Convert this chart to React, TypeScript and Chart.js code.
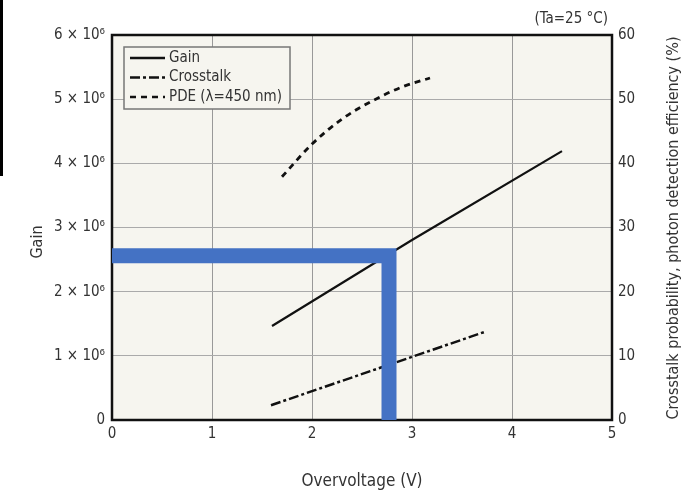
import React, { useEffect, useRef } from "react";
import { Chart, registerables } from "chart.js";

Chart.register(...registerables);

const FONT = "'DejaVu Sans Condensed', 'Noto Sans', sans-serif";

const gainX = [1.6, 3.0, 4.5];
const gainY = [1.465e6, 2.805e6, 4.19e6];

const crosstalkX = [1.59, 3.74];
const crosstalkY = [2.3, 13.8];

const pdeX = [1.7, 2.0, 2.3, 2.6, 2.9, 3.18];
const pdeY = [37.9, 43.0, 46.9, 49.7, 51.9, 53.3];

// highlight marker (reading of gain at ~2.77 V)
const markerX = [-0.02, 2.77, 2.77];
const markerY = [2.56e6, 2.56e6, -0.03e6];

const xTicks = [0, 1, 2, 3, 4, 5];
const gainTicks = [0, 1e6, 2e6, 3e6, 4e6, 5e6, 6e6];
const pctTicks = [0, 10, 20, 30, 40, 50, 60];

const legendItems = ["Gain", "Crosstalk", "PDE (λ=450 nm)"];
const legendDashes = [[], [10, 3, 3, 3], [6, 5]];

const toPts = (xs: number[], ys: number[]) => xs.map((x, i) => ({ x, y: ys[i] }));

const decorPlugin = {
  id: "decor",
  beforeDraw(chart: any) {
    const { ctx, chartArea: a } = chart;
    ctx.save();
    ctx.fillStyle = "#f6f5ef";
    ctx.fillRect(a.left, a.top, a.right - a.left, a.bottom - a.top);
    ctx.restore();
  },
  beforeDatasetsDraw(chart: any) {
    const { ctx, chartArea: a } = chart;
    ctx.save();
    ctx.strokeStyle = "#111";
    ctx.lineWidth = 2.5;
    ctx.strokeRect(a.left, a.top, a.right - a.left, a.bottom - a.top);
    ctx.restore();
  },
  afterDraw(chart: any) {
    const { ctx, chartArea: a } = chart;
    ctx.save();
    ctx.fillStyle = "#333";
    ctx.textBaseline = "middle";
    // top-right note
    ctx.font = `15px ${FONT}`;
    ctx.textAlign = "right";
    ctx.fillText("(Ta=25 °C)", a.right - 4, 19);
    // x title
    ctx.font = `17px ${FONT}`;
    ctx.textAlign = "center";
    ctx.fillText("Overvoltage (V)", (a.left + a.right) / 2, 482);
    // left title
    ctx.save();
    ctx.translate(38, 242);
    ctx.rotate(-Math.PI / 2);
    ctx.font = `16px ${FONT}`;
    ctx.fillText("Gain", 0, 0);
    ctx.restore();
    // right title
    ctx.save();
    ctx.translate(674, 228);
    ctx.rotate(-Math.PI / 2);
    ctx.font = `16px ${FONT}`;
    ctx.fillText("Crosstalk probability, photon detection efficiency (%)", 0, 0);
    ctx.restore();

    // legend box
    const bx = a.left + 12, by = a.top + 12, bw = 166, bh = 62;
    ctx.fillStyle = "#f6f5ef";
    ctx.fillRect(bx, by, bw, bh);
    ctx.strokeStyle = "#777";
    ctx.lineWidth = 1.5;
    ctx.strokeRect(bx, by, bw, bh);
    legendItems.forEach((label, i) => {
      const y = by + 11 + i * 19.5;
      ctx.beginPath();
      ctx.setLineDash(legendDashes[i]);
      ctx.strokeStyle = "#111";
      ctx.lineWidth = 2.5;
      ctx.moveTo(bx + 6, y);
      ctx.lineTo(bx + 41, y);
      ctx.stroke();
      ctx.setLineDash([]);
      ctx.fillStyle = "#333";
      ctx.font = `15px ${FONT}`;
      ctx.textAlign = "left";
      ctx.fillText(label, bx + 45, y);
    });
    ctx.restore();
  },
};

export default function App() {
  const ref = useRef<HTMLCanvasElement | null>(null);
  useEffect(() => {
    if (!ref.current) return;
    const chart = new Chart(ref.current, {
      type: "line",
      data: {
        datasets: [
          {
            label: "marker",
            data: toPts(markerX, markerY),
            borderColor: "#4472c4",
            borderWidth: 15,
            borderCapStyle: "butt",
            borderJoinStyle: "miter",
            pointRadius: 0,
            yAxisID: "y",
            order: -1,
          },
          {
            label: legendItems[0],
            data: toPts(gainX, gainY),
            borderColor: "#111",
            borderWidth: 2.2,
            pointRadius: 0,
            yAxisID: "y",
          },
          {
            label: legendItems[1],
            data: toPts(crosstalkX, crosstalkY),
            borderColor: "#111",
            borderWidth: 2.5,
            borderDash: legendDashes[1],
            pointRadius: 0,
            yAxisID: "y2",
          },
          {
            label: legendItems[2],
            data: toPts(pdeX, pdeY),
            borderColor: "#111",
            borderWidth: 2.8,
            borderDash: legendDashes[2],
            cubicInterpolationMode: "monotone",
            pointRadius: 0,
            yAxisID: "y2",
          },
        ],
      },
      options: {
        animation: false,
        responsive: false,
        layout: { padding: { top: 35, left: 0, right: 0, bottom: 0 } },
        plugins: { legend: { display: false }, tooltip: { enabled: false } },
        scales: {
          x: {
            type: "linear",
            min: 0,
            max: 5,
            afterFit: (s: any) => { s.height = 72; },
            afterBuildTicks: (s: any) => { s.ticks = xTicks.map((v) => ({ value: v })); },
            grid: { color: "#999", lineWidth: 1, drawTicks: false },
            border: { display: false },
            ticks: { color: "#333", font: { size: 15, family: FONT }, padding: 5 },
          },
          y: {
            position: "left",
            min: 0,
            max: 6e6,
            afterFit: (s: any) => { s.width = 112; },
            afterBuildTicks: (s: any) => { s.ticks = gainTicks.map((v) => ({ value: v })); },
            grid: { color: "#aaa", lineWidth: 1, drawTicks: false },
            border: { display: false },
            ticks: {
              color: "#333",
              font: { size: 15, family: FONT },
              padding: 7,
              callback: (v: any) => (v === 0 ? "0" : `${v / 1e6} × 10⁶`),
            },
          },
          y2: {
            position: "right",
            min: 0,
            max: 60,
            afterFit: (s: any) => { s.width = 71; },
            afterBuildTicks: (s: any) => { s.ticks = pctTicks.map((v) => ({ value: v })); },
            grid: { display: false, drawTicks: false },
            border: { display: false },
            ticks: { color: "#333", font: { size: 15, family: FONT }, padding: 6 },
          },
        },
      },
      plugins: [decorPlugin],
    } as any);
    return () => chart.destroy();
  }, []);
  return (
    <div style={{ position: "fixed", left: 0, top: 0, width: 683, height: 492, background: "#fff" }}>
      <canvas ref={ref} width={683} height={492} style={{ display: "block" }} />
      <div style={{ position: "absolute", left: 0, top: 0, width: 3, height: 176, background: "#000" }} />
    </div>
  );
}
